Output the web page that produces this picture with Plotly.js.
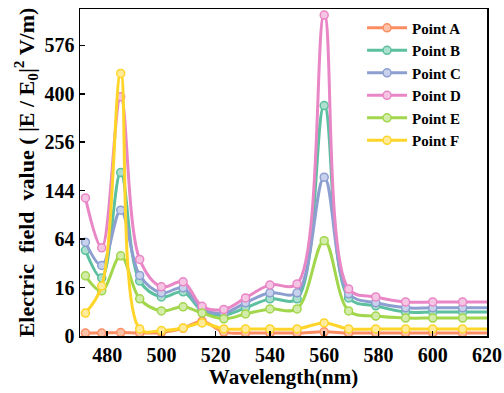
<!DOCTYPE html>
<html>
<head>
<meta charset="utf-8">
<script src="https://cdn.plot.ly/plotly-3.0.1.min.js"></script>
<style>html,body{margin:0;padding:0;background:#fff;}#chart{width:504px;height:393px;}</style>
</head>
<body>
<div id="chart"></div>
<script>
// Wavelength (nm)
const wavelength = [472, 478, 485, 492, 500, 508, 515, 523, 531, 540, 550, 560, 569, 579, 590, 600, 611, 622];
// Electric field value |E/E0|^2 for each point
const pointA = [0.06, 0.06, 0.08, 0.06, 0.08, 0.4, 1.5, 0.1, 0.06, 0.06, 0.06, 0.12, 0.06, 0.06, 0.06, 0.06, 0.06, 0.06];
const pointB = [50, 23, 182, 20.7, 10.4, 13.3, 4.3, 3, 5.4, 9.4, 9.4, 362, 9.9, 6.2, 3.9, 3.9, 3.9, 3.9];
const pointC = [60, 34, 108, 25, 12.7, 15.8, 5, 3.6, 7.5, 12.7, 12.7, 172, 12.1, 7.5, 5.4, 5.4, 5.4, 5.4];
const pointD = [130, 53, 390, 40, 16.5, 20, 6, 4.8, 9.9, 17.8, 18.5, 702, 15.1, 10.4, 7.9, 7.9, 7.9, 7.9];
const pointE = [24.7, 13.9, 43.8, 9.4, 4.3, 5.8, 3.6, 2, 3.3, 5, 5, 62, 4.3, 2.7, 2.2, 2.2, 2.2, 2.2];
const pointF = [3.6, 17, 470, 0.34, 0.2, 0.44, 1.16, 0.34, 0.34, 0.34, 0.34, 1.16, 0.34, 0.34, 0.34, 0.34, 0.34, 0.34];
const seriesNames = ['Point A', 'Point B', 'Point C', 'Point D', 'Point E', 'Point F'];
const yTickLabels = [0, 16, 64, 144, 256, 400, 576];
const xTickLabels = [480, 500, 520, 540, 560, 580, 600, 620];

const colors = ['#fc8d62', '#5cc0a0', '#8c9fd0', '#e986c6', '#a2d64c', '#ffd52a'];
const fills = ['#fdc3a9', '#aee0cf', '#c9d2ec', '#f5c6e4', '#d3ecaa', '#ffeb9a'];
const allSeries = [pointA, pointB, pointC, pointD, pointE, pointF];

const traces = allSeries.map((vals, i) => ({
  x: wavelength,
  y: vals.map(Math.sqrt),
  name: seriesNames[i],
  type: 'scatter',
  mode: 'lines+markers',
  line: {color: colors[i], width: 3, shape: 'spline', smoothing: 1},
  marker: {symbol: 'circle', size: 8, color: fills[i], line: {color: colors[i], width: 1.5}}
}));

const font = {family: 'Liberation Serif', color: '#000', weight: 'bold'};

const layout = {
  width: 504, height: 393,
  margin: {l: 80, r: 17, t: 9, b: 57},
  paper_bgcolor: '#fff', plot_bgcolor: '#fff',
  showlegend: true,
  legend: {
    x: 0.693, y: 0.992, xanchor: 'left', yanchor: 'top',
    bgcolor: 'rgba(0,0,0,0)', borderwidth: 0,
    font: Object.assign({}, font, {size: 15}),
    itemwidth: 40, tracegroupgap: 0
  },
  xaxis: {
    range: [470, 620],
    tickvals: xTickLabels, ticktext: xTickLabels.map(String),
    ticks: 'inside', ticklen: 5, tickwidth: 1.5, tickcolor: '#000',
    showline: true, linecolor: '#000', linewidth: 1.5, mirror: true,
    showgrid: false, zeroline: false,
    tickfont: Object.assign({}, font, {size: 20}),
    title: {text: 'Wavelength(nm)', font: Object.assign({}, font, {size: 21}), standoff: 4}
  },
  yaxis: {
    range: [0, 27],
    tickvals: yTickLabels.map(Math.sqrt), ticktext: yTickLabels.map(String),
    ticks: 'inside', ticklen: 5, tickwidth: 1.5, tickcolor: '#000',
    showline: true, linecolor: '#000', linewidth: 1.5, mirror: true,
    showgrid: false, zeroline: false,
    tickfont: Object.assign({}, font, {size: 20}),
    title: {text: 'Electric&nbsp; field&nbsp; value ( |E / E<sub>0</sub>|<sup>2</sup> V/m)', font: Object.assign({}, font, {size: 22}), standoff: 4}
  }
};

Plotly.newPlot('chart', traces, layout, {displayModeBar: false, staticPlot: true});
</script>
</body>
</html>
